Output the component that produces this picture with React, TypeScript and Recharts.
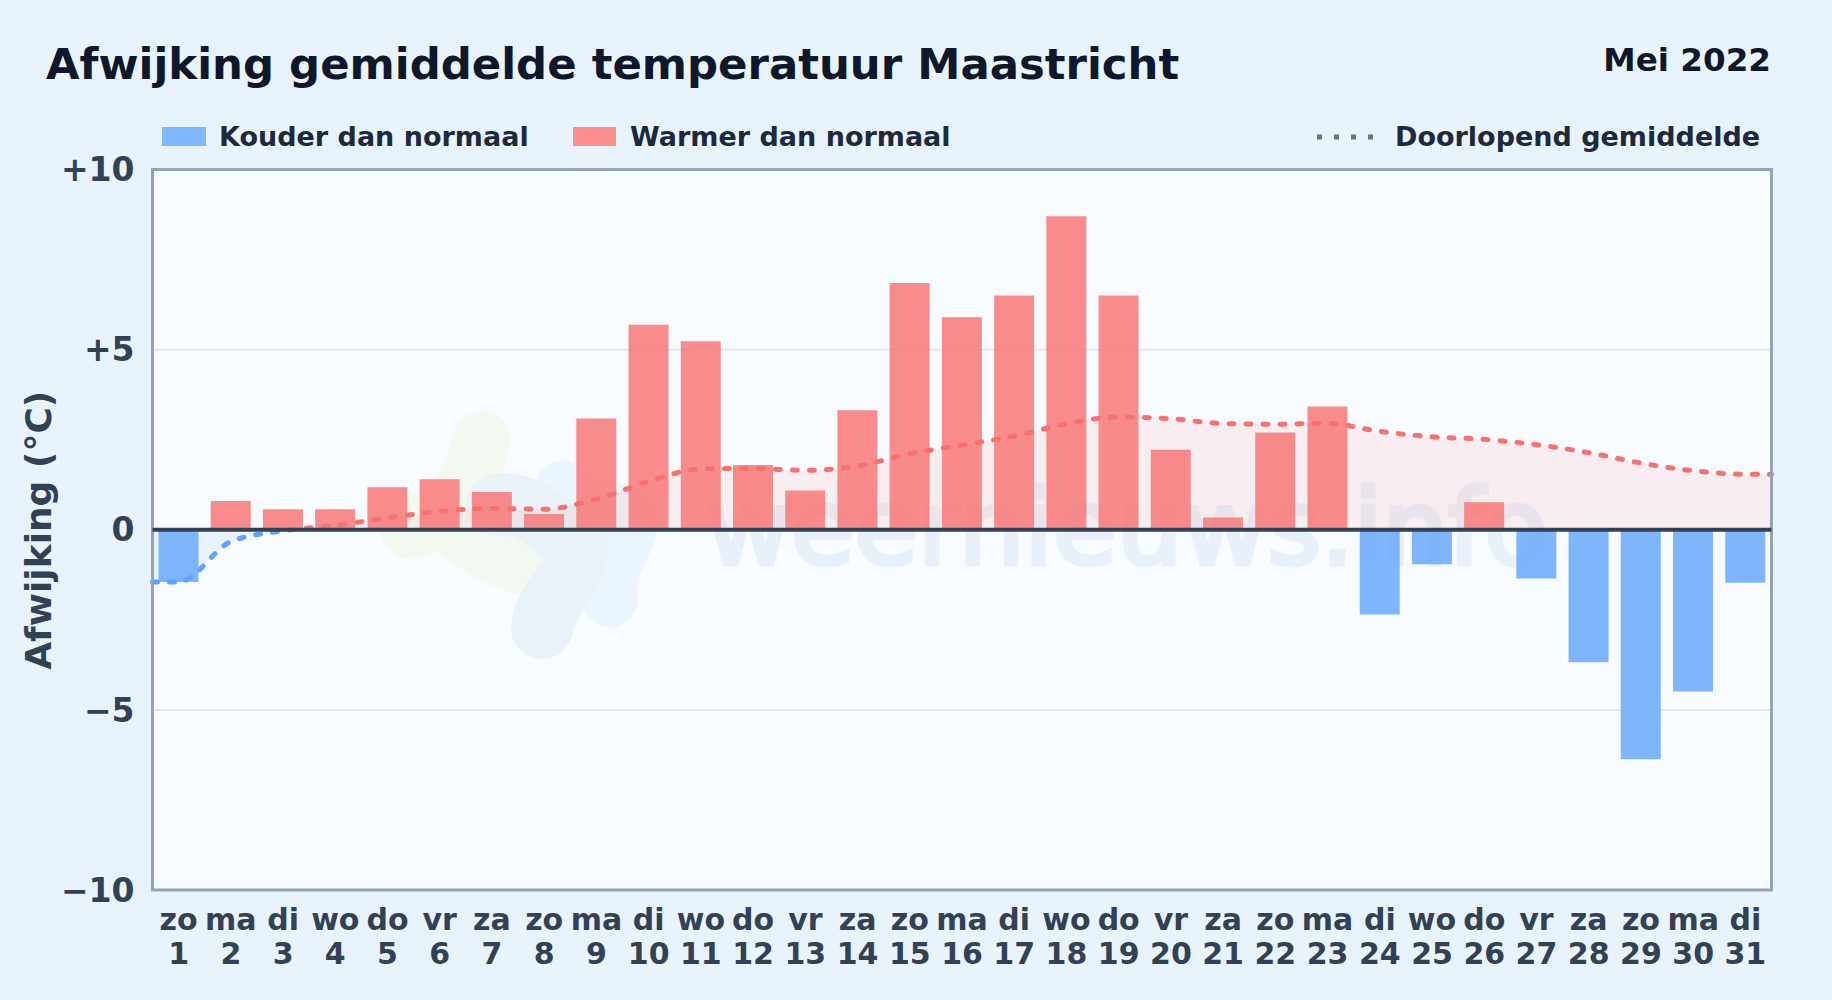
import { ComposedChart, Area, Bar, XAxis, YAxis, CartesianGrid, ReferenceLine, ReferenceArea } from 'recharts'

const weekdays = ['zo', 'ma', 'di', 'wo', 'do', 'vr', 'za', 'zo', 'ma', 'di', 'wo', 'do', 'vr', 'za', 'zo', 'ma', 'di', 'wo', 'do', 'vr', 'za', 'zo', 'ma', 'di', 'wo', 'do', 'vr', 'za', 'zo', 'ma', 'di']
const days = [1, 2, 3, 4, 5, 6, 7, 8, 9, 10, 11, 12, 13, 14, 15, 16, 17, 18, 19, 20, 21, 22, 23, 24, 25, 26, 27, 28, 29, 30, 31]
const deviation = [-1.45, 0.8, 0.57, 0.57, 1.18, 1.4, 1.05, 0.44, 3.09, 5.69, 5.23, 1.8, 1.09, 3.32, 6.85, 5.9, 6.5, 8.7, 6.5, 2.22, 0.34, 2.7, 3.42, -2.35, -0.96, 0.76, -1.35, -3.68, -6.37, -4.49, -1.47]
const runningMean = [-1.45, -0.33, -0.03, 0.12, 0.33, 0.51, 0.59, 0.57, 0.85, 1.34, 1.69, 1.7, 1.65, 1.77, 2.11, 2.35, 2.6, 2.94, 3.13, 3.08, 2.95, 2.93, 2.95, 2.73, 2.58, 2.51, 2.36, 2.14, 1.85, 1.64, 1.54]
const yTicks = [-10, -5, 0, 5, 10]

const PLOT = { left: 152.5, right: 1771.5, top: 169.5, bottom: 890 }

const barRows = days.map((day, i) => ({
  day,
  cold: deviation[i] < 0 ? deviation[i] : null,
  warm: deviation[i] >= 0 ? deviation[i] : null,
}))

// the running mean runs on to both plot edges, so it has its own rows and axis
const meanRows = [
  { edge: 0.5, mean: runningMean[0] },
  ...days.map((day, i) => ({ edge: day, mean: runningMean[i] })),
  { edge: 31.5, mean: runningMean[30] },
]

const formatY = (v: number) => (v > 0 ? `+${v}` : v < 0 ? `\u2212${-v}` : '0')

function DayTick({ x, payload }: any) {
  return (
    <text x={x} textAnchor="middle" fill="#334155" fontSize={30} fontWeight={700}>
      <tspan x={x} y={930}>{weekdays[payload.value - 1]}</tspan>
      <tspan x={x} y={964}>{payload.value}</tspan>
    </text>
  )
}

function Watermark() {
  return (
    <svg width={1832} height={1000} style={{ position: 'absolute', left: 0, top: 0 }}>
      <rect x={PLOT.left} y={PLOT.top} width={PLOT.right - PLOT.left} height={PLOT.bottom - PLOT.top} fill="#f8fbff" />
      <g fill="none" strokeLinecap="round" strokeLinejoin="round">
        <path d="M482,440 C470,480 460,500 440,510 C430,515 420,525 410,530 M440,520 C470,540 490,555 520,565" stroke="#f3f9f1" strokeWidth={58} />
        <path d="M563,488 C590,520 625,500 632,520 C625,550 605,570 610,600" stroke="#ebf5fd" strokeWidth={55} />
        <path d="M497,505 C525,500 555,525 578,550 C570,585 545,600 542,628" stroke="#e9f1f9" strokeWidth={62} />
      </g>
      <text x={706} y={564} fontFamily="'DejaVu Sans', sans-serif" fontSize={103} fill="#e8f1fa" stroke="#e8f1fa" strokeWidth={5} textLength={842} lengthAdjust="spacingAndGlyphs">weernieuws.info</text>
    </svg>
  )
}

function LegendRow() {
  const text = { position: 'absolute', top: 119, fontSize: 27, lineHeight: '36px', fontWeight: 700, color: '#1e293b', whiteSpace: 'nowrap' } as const
  return (
    <>
      <div style={{ position: 'absolute', left: 162, top: 127, width: 44, height: 19, background: '#80b6fb' }} />
      <div style={{ ...text, left: 219 }}>Kouder dan normaal</div>
      <div style={{ position: 'absolute', left: 573, top: 127, width: 43, height: 19, background: '#f98f8f' }} />
      <div style={{ ...text, left: 630 }}>Warmer dan normaal</div>
      <svg width={60} height={10} style={{ position: 'absolute', left: 1316, top: 132 }}>
        <line x1={1} x2={60} y1={5} y2={5} stroke="#64748b" strokeWidth={5} strokeDasharray="5 12" />
      </svg>
      <div style={{ ...text, left: 1395 }}>Doorlopend gemiddelde</div>
    </>
  )
}

export default function App() {
  return (
    <div style={{ position: 'relative', width: 1832, height: 1000, overflow: 'hidden', background: '#e8f3fc', fontFamily: "'DejaVu Sans', sans-serif" }}>
      <style>{'html,body{margin:0;padding:0}'}</style>
      <div style={{ position: 'absolute', left: 46, top: 37, fontSize: 43.4, lineHeight: '54px', fontWeight: 700, color: '#0f172a', whiteSpace: 'nowrap' }}>
        Afwijking gemiddelde temperatuur Maastricht
      </div>
      <div style={{ position: 'absolute', right: 61, top: 40, fontSize: 32.6, lineHeight: '40px', fontWeight: 700, color: '#0f172a', whiteSpace: 'nowrap' }}>
        Mei 2022
      </div>
      <LegendRow />
      <Watermark />
      <div style={{ position: 'absolute', left: 0, top: 0 }}>
        <ComposedChart
          width={1832}
          height={1000}
          data={barRows}
          margin={{ top: PLOT.top, right: 1832 - PLOT.right, bottom: 0, left: 0 }}
        >
          <defs>
            <linearGradient id="meanFill" gradientUnits="userSpaceOnUse" x1={0} x2={0} y1={PLOT.top} y2={PLOT.bottom}>
              <stop offset="50%" stopColor="#f87171" stopOpacity={0.16} />
              <stop offset="50%" stopColor="#60a5fa" stopOpacity={0.16} />
            </linearGradient>
            <linearGradient id="meanStroke" gradientUnits="userSpaceOnUse" x1={0} x2={0} y1={PLOT.top} y2={PLOT.bottom}>
              <stop offset="50%" stopColor="#f87171" />
              <stop offset="50%" stopColor="#60a5fa" />
            </linearGradient>
          </defs>
          <CartesianGrid vertical={false} stroke="#e2e8f0" strokeWidth={2} />
          <XAxis
            dataKey="day"
            type="number"
            domain={[0.5, 31.5]}
            ticks={days}
            interval={0}
            height={110}
            axisLine={false}
            tickLine={false}
            tick={<DayTick />}
          />
          <XAxis xAxisId="edge" dataKey="edge" type="number" domain={[0.5, 31.5]} hide />
          <YAxis
            domain={[-10, 10]}
            ticks={yTicks}
            width={PLOT.left}
            axisLine={false}
            tickLine={false}
            tickMargin={12}
            tickFormatter={formatY}
            tick={{ fill: '#334155', fontSize: 33, fontWeight: 700 }}
            label={{ value: 'Afwijking (°C)', angle: -90, position: 'insideLeft', dx: 33, dy: 140, fill: '#334155', fontSize: 36, fontWeight: 700 }}
          />
          <Area
            data={meanRows}
            xAxisId="edge"
            dataKey="mean"
            type="monotone"
            baseValue={0}
            fill="url(#meanFill)"
            stroke="none"
            dot={false}
            activeDot={false}
            isAnimationActive={false}
          />
          <Bar dataKey="cold" stackId="day" barSize={40} fill="#60a5fa" fillOpacity={0.8} isAnimationActive={false} />
          <Bar dataKey="warm" stackId="day" barSize={40} fill="#f87171" fillOpacity={0.8} isAnimationActive={false} />
          <Area
            data={meanRows}
            xAxisId="edge"
            dataKey="mean"
            type="monotone"
            baseValue={0}
            fill="none"
            stroke="url(#meanStroke)"
            strokeWidth={5}
            strokeLinecap="round"
            strokeDasharray="5 12"
            dot={false}
            activeDot={false}
            isAnimationActive={false}
          />
          <ReferenceLine y={0} stroke="#334155" strokeWidth={4} />
          <ReferenceArea x1={0.5} x2={31.5} y1={-10} y2={10} fill="none" stroke="#94a3b8" strokeWidth={3} />
        </ComposedChart>
      </div>
    </div>
  )
}
